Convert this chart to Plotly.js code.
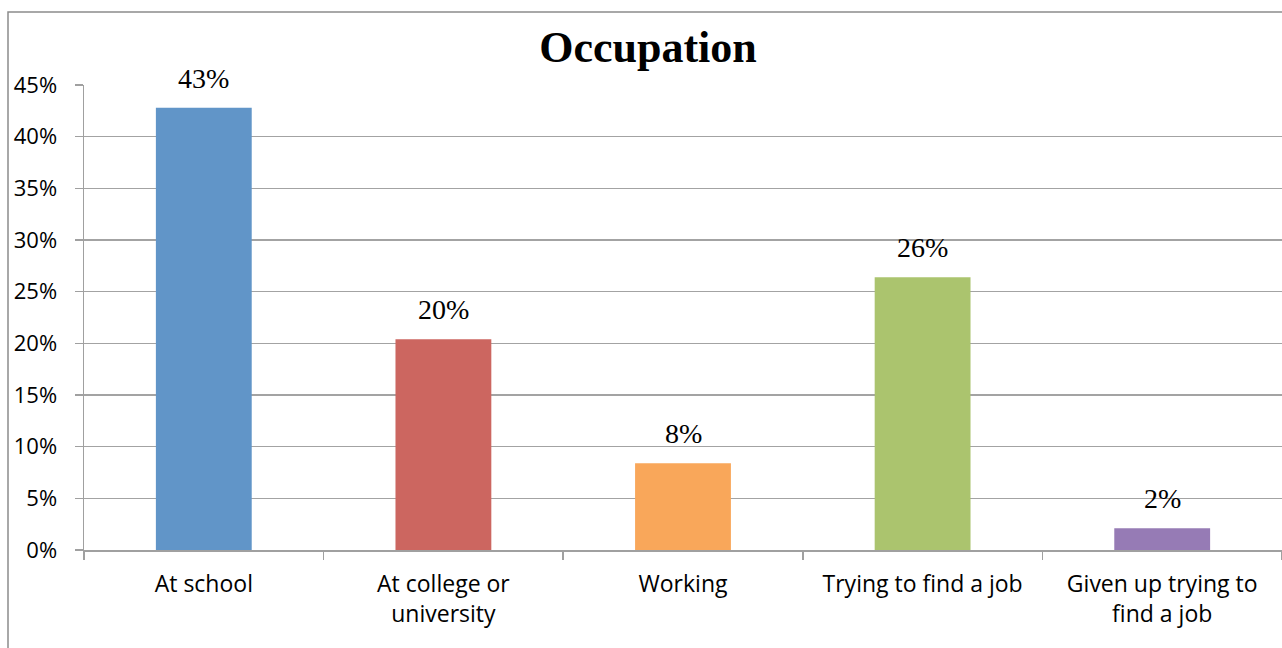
<!DOCTYPE html>
<html>
<head>
<meta charset="utf-8">
<script src="https://cdn.plot.ly/plotly-3.0.1.min.js"></script>
<style>html,body{margin:0;padding:0;background:#fff;}#chart{width:1282px;height:648px;}</style>
</head>
<body>
<div id="chart"></div>
<script>
const categories = ["At school", "At college or<br>university", "Working", "Trying to find a job", "Given up trying to<br>find a job"];
const values = [0.428, 0.204, 0.084, 0.264, 0.021];
const colors = ["#6195C8", "#CC6660", "#F9A75A", "#ABC46E", "#967BB5"];
const yTickVals = [0, 0.05, 0.10, 0.15, 0.20, 0.25, 0.30, 0.35, 0.40, 0.45];
const yTickText = ["0%", "5%", "10%", "15%", "20%", "25%", "30%", "35%", "40%", "45%"];
const labels = values.map(v => Math.round(v * 100) + "%");

const W = 1282, H = 648;
const mL = 84, mR = 0, mT = 85, mB = 98;
const pw = W - mL - mR, ph = H - mT - mB;
const px = x => (x - mL) / pw;
const py = y => 1 - (y - mT) / ph;

const trace = {
  type: "bar",
  x: categories,
  y: values,
  marker: { color: colors, line: { width: 0 } },
  width: 0.4,
  hoverinfo: "skip"
};

const annotations = categories.map((c, i) => ({
  x: c, y: values[i], xref: "x", yref: "y",
  text: labels[i], showarrow: false, yanchor: "bottom", yshift: 12,
  font: { family: "Liberation Serif", size: 28, color: "#000" }
}));

const layout = {
  width: W, height: H,
  margin: { l: mL, r: mR, t: mT, b: mB, pad: 0 },
  paper_bgcolor: "#fff", plot_bgcolor: "#fff",
  showlegend: false,
  title: {
    text: "<b>Occupation</b>",
    font: { family: "Liberation Serif", size: 44, color: "#000" },
    x: px(648), xref: "paper", xanchor: "center",
    y: 1 - 47 / H, yref: "container", yanchor: "middle"
  },
  xaxis: {
    type: "category", range: [-0.5, 4.5], fixedrange: true,
    showgrid: false, showline: true, linecolor: "#a0a0a0", linewidth: 1.5,
    ticks: "outside", tickson: "boundaries", ticklen: 8, tickcolor: "#a0a0a0", tickwidth: 1.5,
    tickfont: { family: "Open Sans", size: 23, color: "#000" },
    ticklabelstandoff: 13,
    zeroline: false
  },
  yaxis: {
    range: [0, 0.45], fixedrange: true,
    tickvals: yTickVals, ticktext: yTickText,
    showgrid: true, gridcolor: "#a3a3a3", gridwidth: 1.6,
    showline: true, linecolor: "#a0a0a0", linewidth: 1.5,
    zeroline: false,
    ticks: "outside", ticklen: 8, tickcolor: "#a0a0a0", tickwidth: 1.5,
    tickfont: { family: "Open Sans", size: 22, color: "#000" },
    ticklabelstandoff: 13
  },
  annotations: annotations,
  shapes: [{
    type: "rect", xref: "paper", yref: "paper", layer: "above",
    x0: px(8), x1: px(W + 20), y0: py(H + 20), y1: py(12),
    line: { color: "#8c8c8c", width: 1.5 }, fillcolor: "rgba(0,0,0,0)"
  }]
};

Plotly.newPlot("chart", [trace], layout, { displayModeBar: false, staticPlot: true });
</script>
</body>
</html>
